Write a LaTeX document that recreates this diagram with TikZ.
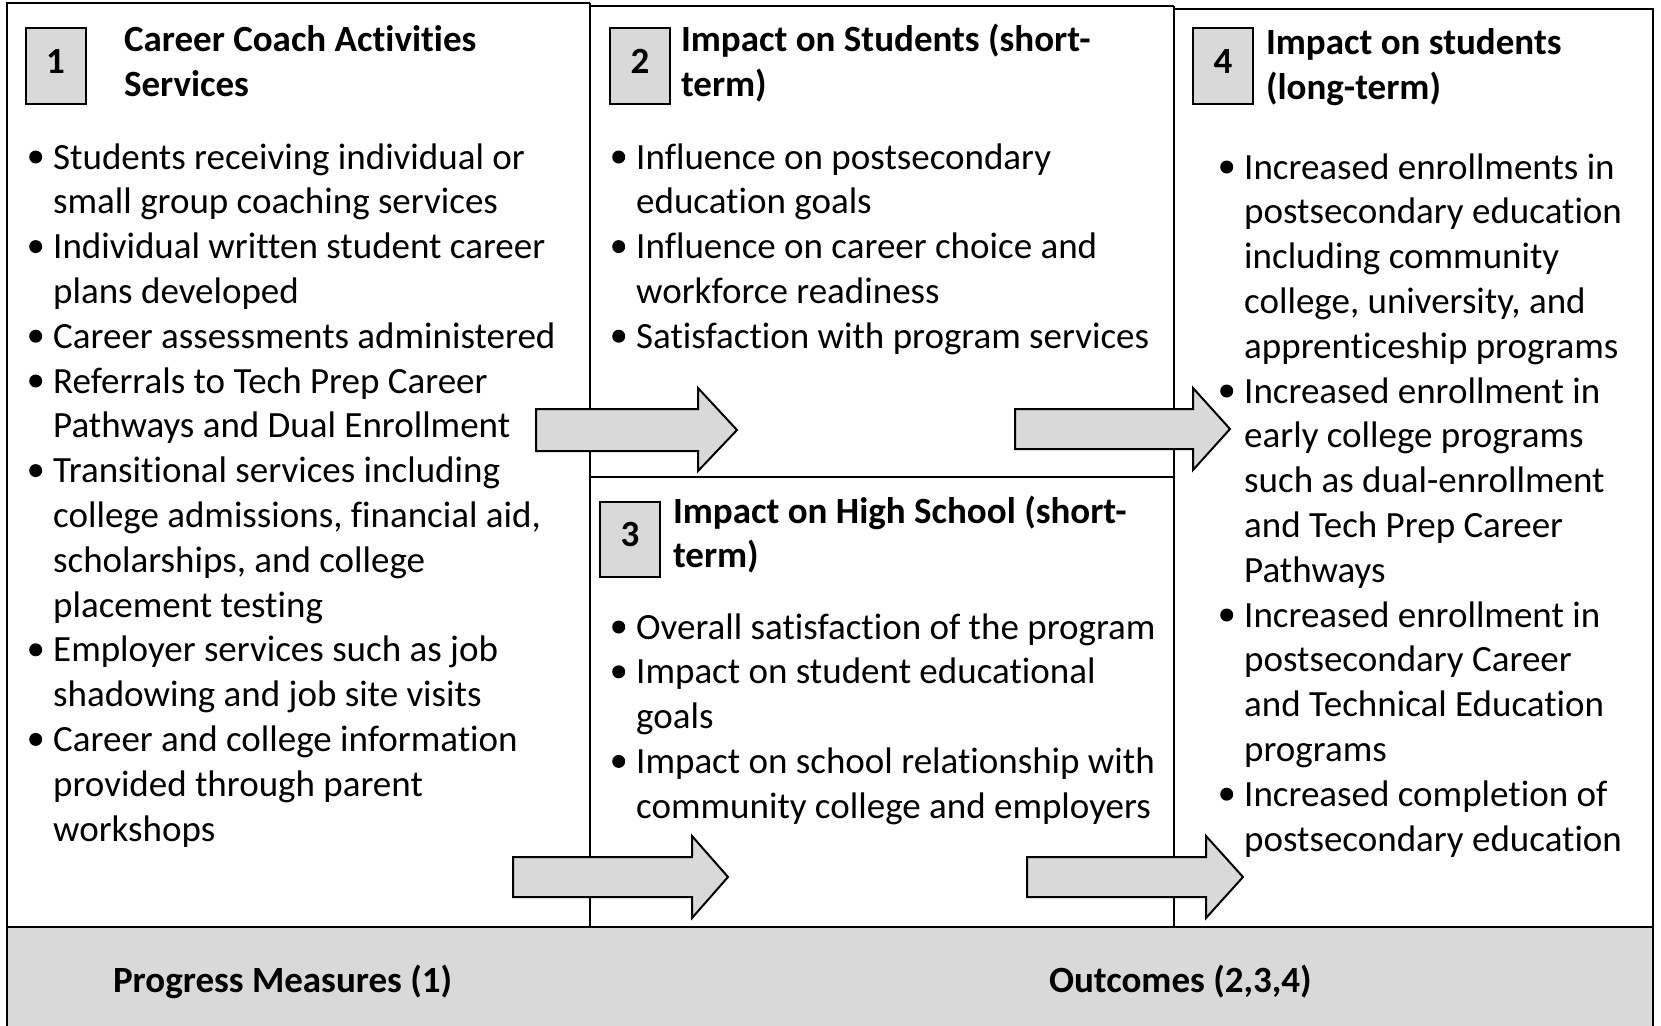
\documentclass[tikz,border=0pt]{standalone}
\usepackage{fontspec}
\setmainfont{Carlito}[Ligatures={NoCommon}]
\definecolor{boxgray}{HTML}{D9D9D9}
\newcommand\bigfont{\fontsize{37}{44.8}\selectfont}
\newcommand\bul{\makebox[24pt][l]{\tikz[baseline=-12pt]\fill (6.5pt,0pt) circle[radius=6.5pt];}}
\tikzset{
  numbox/.style={draw, line width=2pt, fill=boxgray, minimum width=60pt,
    minimum height=75pt, inner sep=0pt, text depth=10pt, font=\bigfont\bfseries},
  heading/.style={anchor=base west, inner sep=0pt, font=\bigfont\bfseries},
  bullets/.style={anchor=base west, inner sep=0pt, font=\bigfont},
  blockarrow/.style={draw, line width=2pt, fill=boxgray, line join=miter}
}
\begin{document}
\begin{tikzpicture}[x=1pt, y=-1pt, line width=2pt]
\useasboundingbox (0,0) rectangle (1661,1025);
% frame
\fill[boxgray] (7,927) rectangle (1653,1030);
\draw (7,1030) -- (7,3) -- (590,3);
\draw (590,6) -- (1174,6);
\draw (1174,9) -- (1653,9) -- (1653,1030);
\draw (7,927) -- (1653,927);
\draw (590,3) -- (590,927);
\draw (1174,6) -- (1174,927);
\draw (590,477) -- (1174,477);
% column 1
\node[numbox] (num1) at (55.5,66) {1};
\node[heading] (title1) at (123,52) {\begin{tabular}[t]{@{}l@{}}Career Coach Activities\\Services\end{tabular}};
\node[bullets] (list1) at (29,169) {\begin{tabular}[t]{@{}l@{}l@{}}
\bul & Students receiving individual or\\
 & small group coaching services\\
\bul & Individual written student career\\
 & plans developed\\
\bul & Career assessments administered\\
\bul & Referrals to Tech Prep Career\\
 & Pathways and Dual Enrollment\\
\bul & Transitional services including\\
 & college admissions, financial aid,\\
 & scholarships, and college\\
 & placement testing\\
\bul & Employer services such as job\\
 & shadowing and job site visits\\
\bul & Career and college information\\
 & provided through parent\\
 & workshops
\end{tabular}};
% column 2
\node[numbox] (num2) at (640,66) {2};
\node[heading] (title2) at (680,52) {\begin{tabular}[t]{@{}l@{}}Impact on Students (short-\\term)\end{tabular}};
\node[bullets] (list2) at (612,169) {\begin{tabular}[t]{@{}l@{}l@{}}
\bul & Influence on postsecondary\\
 & education goals\\
\bul & Influence on career choice and\\
 & workforce readiness\\
\bul & Satisfaction with program services
\end{tabular}};
\node[numbox] (num3) at (630,539) {3};
\node[heading] (title3) at (672,523) {\begin{tabular}[t]{@{}l@{}}Impact on High School (short-\\term)\end{tabular}};
\node[bullets] (list3) at (612,639) {\begin{tabular}[t]{@{}l@{}l@{}}
\bul & Overall satisfaction of the program\\
\bul & Impact on student educational\\
 & goals\\
\bul & Impact on school relationship with\\
 & community college and employers
\end{tabular}};
% column 3
\node[numbox] (num4) at (1223,66) {4};
\node[heading] (title4) at (1265,55) {\begin{tabular}[t]{@{}l@{}}Impact on students\\(long-term)\end{tabular}};
\node[bullets] (list4) at (1220,179) {\begin{tabular}[t]{@{}l@{}l@{}}
\bul & Increased enrollments in\\
 & postsecondary education\\
 & including community\\
 & college, university, and\\
 & apprenticeship programs\\
\bul & Increased enrollment in\\
 & early college programs\\
 & such as dual-enrollment\\
 & and Tech Prep Career\\
 & Pathways\\
\bul & Increased enrollment in\\
 & postsecondary Career\\
 & and Technical Education\\
 & programs\\
\bul & Increased completion of\\
 & postsecondary education
\end{tabular}};
% arrows
\draw[blockarrow] (536,409) -- (698,409) -- (698,388) -- (737,430) -- (698,471) -- (698,451) -- (536,451) -- cycle;
\draw[blockarrow] (1015,409) -- (1193,409) -- (1193,388) -- (1230,429) -- (1193,470) -- (1193,449) -- (1015,449) -- cycle;
\draw[blockarrow] (513,857) -- (692,857) -- (692,836) -- (728,877) -- (692,918) -- (692,897) -- (513,897) -- cycle;
\draw[blockarrow] (1027,857) -- (1206,857) -- (1206,836) -- (1243,877) -- (1206,918) -- (1206,897) -- (1027,897) -- cycle;
% bottom band
\node[heading] (progress) at (112,992) {Progress Measures (1)};
\node[heading] (outcomes) at (1048,992) {Outcomes (2,3,4)};
\end{tikzpicture}
\end{document}
